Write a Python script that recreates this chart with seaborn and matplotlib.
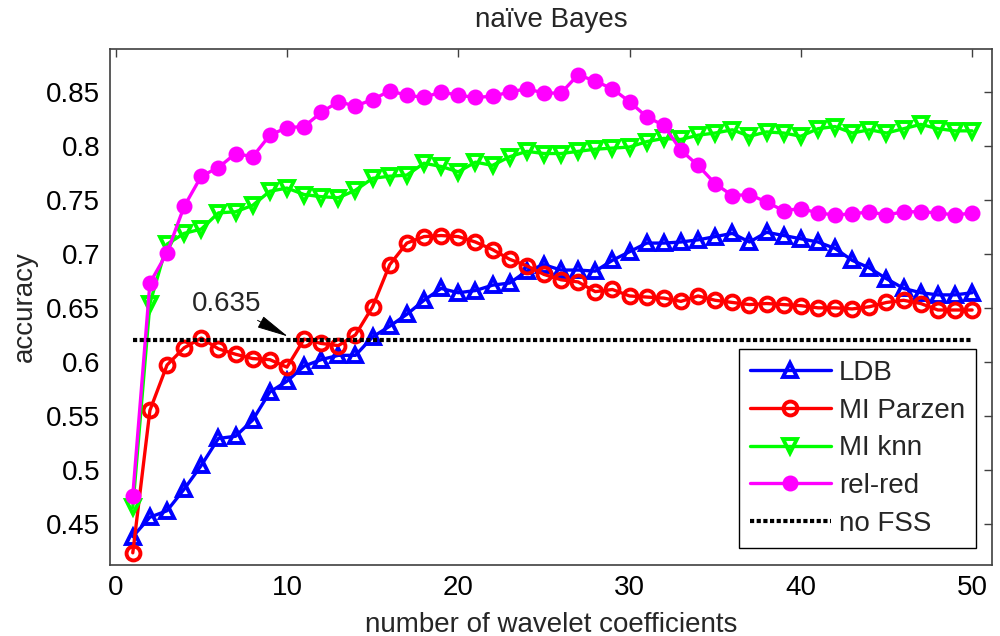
import numpy as np
import pandas as pd
import matplotlib
matplotlib.use('Agg')
import matplotlib.pyplot as plt
import seaborn as sns

# number of wavelet coefficients
n_coef = list(range(1, 51))

ldb = [0.438, 0.456, 0.462, 0.482, 0.504, 0.529, 0.531, 0.546, 0.572, 0.582,
       0.596, 0.602, 0.606, 0.606, 0.623, 0.633, 0.644, 0.657, 0.668, 0.664,
       0.666, 0.671, 0.673, 0.684, 0.690, 0.685, 0.685, 0.684, 0.694, 0.702,
       0.710, 0.710, 0.711, 0.713, 0.716, 0.719, 0.711, 0.720, 0.717, 0.714,
       0.711, 0.705, 0.694, 0.687, 0.677, 0.668, 0.664, 0.662, 0.662, 0.664]

mi_parzen = [0.423, 0.555, 0.597, 0.613, 0.622, 0.612, 0.607, 0.603, 0.602, 0.595,
             0.621, 0.617, 0.615, 0.625, 0.651, 0.690, 0.710, 0.716, 0.717, 0.716,
             0.711, 0.704, 0.695, 0.689, 0.681, 0.676, 0.674, 0.665, 0.667, 0.661,
             0.660, 0.659, 0.656, 0.661, 0.657, 0.655, 0.653, 0.654, 0.653, 0.652,
             0.650, 0.650, 0.649, 0.651, 0.655, 0.657, 0.654, 0.648, 0.648, 0.648]

mi_knn = [0.465, 0.654, 0.709, 0.719, 0.723, 0.738, 0.739, 0.745, 0.758, 0.761,
          0.755, 0.753, 0.752, 0.759, 0.770, 0.772, 0.773, 0.784, 0.781, 0.776,
          0.785, 0.782, 0.790, 0.795, 0.793, 0.793, 0.795, 0.797, 0.798, 0.799,
          0.804, 0.807, 0.806, 0.810, 0.812, 0.815, 0.809, 0.813, 0.812, 0.809,
          0.816, 0.818, 0.812, 0.815, 0.812, 0.816, 0.820, 0.816, 0.814, 0.814]

rel_red = [0.476, 0.673, 0.701, 0.744, 0.772, 0.780, 0.793, 0.790, 0.810, 0.817,
           0.818, 0.831, 0.841, 0.837, 0.843, 0.851, 0.847, 0.845, 0.850, 0.847,
           0.845, 0.846, 0.850, 0.853, 0.849, 0.849, 0.866, 0.860, 0.853, 0.841,
           0.827, 0.819, 0.796, 0.782, 0.765, 0.754, 0.755, 0.748, 0.740, 0.742,
           0.738, 0.736, 0.737, 0.739, 0.736, 0.739, 0.739, 0.738, 0.736, 0.738]

no_fss_x = [1, 50]
no_fss = [0.62, 0.62]

sns.set_theme(style='white')
plt.rcParams['font.family'] = ['Liberation Sans', 'DejaVu Sans']

fig = plt.figure(figsize=(10, 6.36), dpi=100)
ax = fig.add_axes([0.110, 0.1116, 0.882, 0.8113])

series = [
    ('LDB', ldb, 'blue', '^'),
    ('MI Parzen', mi_parzen, 'red', 'o'),
    ('MI knn', mi_knn, 'lime', 'v'),
]
for name, vals, col, mk in series:
    sns.lineplot(x=n_coef, y=vals, ax=ax, color=col, lw=2.4, marker=mk,
                 markersize=10, markerfacecolor='none', markeredgecolor=col,
                 markeredgewidth=2.8, label=name)

sns.lineplot(x=n_coef, y=rel_red, ax=ax, color='magenta', lw=2.4, marker='o',
             markersize=10, markerfacecolor='magenta', markeredgecolor='magenta',
             markeredgewidth=1.5, label='rel-red')

sns.lineplot(x=no_fss_x, y=no_fss, ax=ax, color='black', lw=3,
             linestyle=(0, (1.0, 0.6)), label='no FSS')

# text arrow label
ax.annotate('0.635', xy=(10.05, 0.6235), xytext=(6.5, 0.6535),
            ha='center', va='center', fontsize=20,
            arrowprops=dict(arrowstyle='-|>,head_length=1.0,head_width=0.2',
                            color='black', lw=0.7, shrinkA=0, shrinkB=0))

ax.set_xlim(-0.33, 51.16)
ax.set_ylim(0.4117, 0.8898)
ax.set_xticks(np.arange(0, 51, 10))
ax.set_yticks(np.arange(0.45, 0.851, 0.05))
ax.yaxis.set_major_formatter(matplotlib.ticker.FuncFormatter(lambda v, p: '%g' % round(v, 3)))

ax.tick_params(direction='in', top=True, right=True, length=6, width=1,
               color='#404040', labelcolor='black', labelsize=20, pad=7)
for sp in ax.spines.values():
    sp.set_color('#404040')
    sp.set_linewidth(1.2)

ax.set_title('naïve Bayes', fontsize=20, pad=16)
ax.set_xlabel('number of wavelet coefficients', fontsize=20, labelpad=8)
ax.set_ylabel('accuracy', fontsize=20, labelpad=6)

leg = ax.legend(loc='lower right', bbox_to_anchor=(0.982, 0.0335),
                borderaxespad=0, fontsize=20, fancybox=False, framealpha=1,
                edgecolor='black', handlelength=2.9, handletextpad=0.3,
                labelspacing=0.42, borderpad=0.4)
leg.get_frame().set_linewidth(1)

fig.savefig('out.png', dpi=100)
